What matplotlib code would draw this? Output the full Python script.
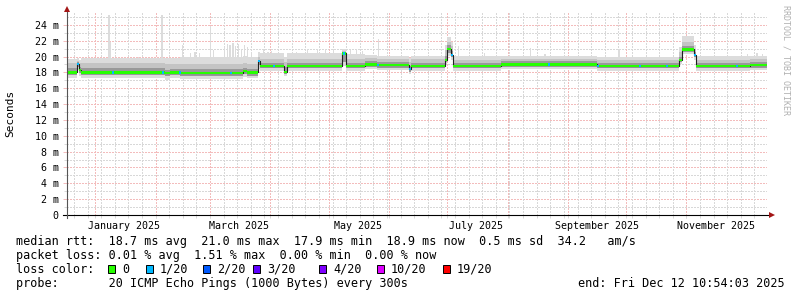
import matplotlib
matplotlib.use('Agg')
import matplotlib.dates as mdates
import matplotlib.pyplot as plt
import numpy as np

plt.rcParams['font.family'] = 'DejaVu Sans Mono'

graph_start = '2024-12-17T10:54'
graph_end = '2025-12-12T10:54'

# median rtt as steps: each value holds from its start time to the next one (ms)
step_start = [
    '2024-12-17T10:54', '2024-12-22T12', '2024-12-23T12', '2024-12-24T12',
    '2025-02-05T18', '2025-02-08T12', '2025-02-13T12', '2025-03-18T00',
    '2025-03-20T00', '2025-03-25T18', '2025-03-26T18', '2025-04-08T00',
    '2025-04-09T12', '2025-05-08T00', '2025-05-10T00', '2025-05-19T18',
    '2025-05-26T00', '2025-06-11T06', '2025-06-12T06', '2025-06-29T18',
    '2025-06-30T18', '2025-07-03T00', '2025-07-04T00', '2025-07-28T12',
    '2025-09-16T00', '2025-10-28T06', '2025-10-29T18', '2025-11-05T00',
    '2025-11-06T00', '2025-12-03T18',
]
median_ms = [
    18.0, 19.1, 18.3, 18.0, 17.9, 18.0, 17.9, 18.2, 18.0, 19.4,
    18.8, 18.1, 18.8, 20.4, 18.8, 19.0, 18.9, 18.4, 18.8, 19.6,
    21.0, 20.2, 18.8, 19.0, 18.8, 19.6, 20.9, 20.2, 18.8, 18.9,
]
# smoke: spread of the 20 pings in each step
smoke_lo = [
    17.3, 18.3, 17.6, 17.3, 17.1, 17.3, 17.2, 17.4, 17.3, 18.4,
    18.2, 17.5, 18.2, 18.8, 18.2, 18.4, 18.3, 17.8, 18.2, 19.0,
    20.1, 19.6, 18.2, 18.4, 18.2, 19.0, 20.3, 19.6, 18.2, 18.3,
]
smoke_q25 = [
    17.7, 18.7, 17.9, 17.7, 17.5, 17.7, 17.6, 17.8, 17.6, 18.9,
    18.5, 17.8, 18.5, 19.3, 18.5, 18.7, 18.6, 18.0, 18.5, 19.3,
    20.5, 19.9, 18.5, 18.7, 18.5, 19.3, 20.6, 19.9, 18.5, 18.6,
]
smoke_q75 = [
    18.5, 19.3, 18.7, 18.5, 18.3, 18.4, 18.4, 18.6, 18.4, 19.6,
    19.2, 18.7, 19.2, 20.5, 19.2, 19.4, 19.3, 18.8, 19.2, 20.1,
    21.4, 20.7, 19.2, 19.4, 19.2, 20.0, 21.3, 20.6, 19.2, 19.3,
]
smoke_q90 = [
    19.2, 19.5, 19.2, 19.2, 19.0, 19.1, 19.1, 19.2, 19.1, 19.9,
    19.7, 19.3, 19.7, 20.7, 19.7, 19.8, 19.7, 19.3, 19.7, 20.8,
    21.9, 21.3, 19.6, 19.7, 19.6, 20.6, 21.9, 21.0, 19.6, 19.7,
]
smoke_hi = [
    19.7, 19.8, 19.6, 19.8, 19.8, 19.8, 20.0, 20.1, 20.0, 20.6,
    20.5, 19.9, 20.4, 20.9, 20.3, 20.2, 20.1, 19.8, 20.1, 21.5,
    22.5, 21.8, 20.1, 20.1, 20.0, 21.2, 22.6, 21.4, 20.1, 20.1,
]

# single steps where the slowest ping stuck out (ms)
peak_time = [
    '2025-01-07T18', '2025-01-08T12', '2025-01-23T00', '2025-02-04T00',
    '2025-02-14T18', '2025-02-18T12', '2025-02-21T00', '2025-02-23T12',
    '2025-02-28T18', '2025-03-02T12', '2025-03-08T00', '2025-03-09T12',
    '2025-03-11T00', '2025-03-12T12', '2025-03-14T00', '2025-03-15T12',
    '2025-03-17T00', '2025-03-18T12', '2025-03-20T00', '2025-03-22T00',
    '2025-03-28T00', '2025-03-30T12', '2025-04-01T12', '2025-04-14T00',
    '2025-04-20T00', '2025-04-25T00', '2025-04-29T00', '2025-05-03T00',
    '2025-05-12T00', '2025-05-15T00', '2025-05-18T00', '2025-05-26T12',
    '2025-07-06T12', '2025-07-20T00', '2025-08-12T12', '2025-08-20T00',
    '2025-09-27T00', '2025-12-02T00', '2025-12-07T00', '2025-12-10T00',
]
peak_ms = [
    25.3, 21.8, 20.0, 25.3, 21.5, 20.4, 20.6, 20.5, 23.9, 20.8,
    21.2, 21.6, 21.5, 21.7, 21.3, 21.6, 21.0, 21.4, 21.2, 20.6,
    20.8, 20.6, 20.7, 20.6, 21.0, 20.9, 21.0, 20.9, 20.8, 21.0,
    20.7, 22.2, 21.3, 20.4, 21.1, 20.3, 20.9, 20.3, 20.4, 20.3,
]

# steps where 1 of the 20 pings was lost
loss_time = [
    '2024-12-22T12', '2025-01-09T12', '2025-02-04T06', '2025-02-13T00',
    '2025-03-11T06', '2025-03-25T18', '2025-04-02T12', '2025-05-08T12',
    '2025-05-26T00', '2025-06-11T06', '2025-07-03T00', '2025-08-21T18',
    '2025-09-16T00', '2025-10-07T12', '2025-10-21T12', '2025-11-05T00',
    '2025-11-26T12',
]

label_time = ['2025-01-16', '2025-03-16', '2025-05-16', '2025-07-16',
              '2025-09-16', '2025-11-16']
label_text = ['January 2025', 'March 2025', 'May 2025', 'July 2025',
              'September 2025', 'November 2025']

loss_names = ['0', '1/20', '2/20', '3/20', '4/20', '10/20', '19/20']
loss_colors = ['#26ff00', '#00b8ff', '#0059ff', '#5e00ff', '#7e00ff',
               '#dd00ff', '#ff0000']

rtt_stats = [18.7, 21.0, 17.9, 18.9, 0.5, 34.2]   # avg max min now sd am/s
loss_stats = [0.01, 1.51, 0.00, 0.00]             # avg max min now

_grid = '#d8d8d8'
_mgrid = '#f3bcbc'
_arrow = '#a31515'
_dots = {'lw': 1.0, 'ls': (0, (1, 1)), 'antialiased': False, 'zorder': 0}


def _num(times):
    return mdates.date2num(np.array(times, dtype='datetime64[m]'))


def _steps(values):
    values = np.asarray(values, dtype=float)
    return np.append(values, values[-1])


def _lookup(t, when, values):
    idx = np.searchsorted(t, when, side='right') - 1
    return np.asarray(values)[idx]


fig = plt.figure(figsize=(7.97, 2.97), dpi=100)
ax = fig.add_axes([67 / 797, (297 - 215) / 297, 700 / 797, 202 / 297])

t = _num(step_start)
t0 = _num([graph_start])[0]
t1 = _num([graph_end])[0]
edges = np.append(t, t1)

# grid, behind everything
for y in range(1, 26):
    ax.axhline(y, color=_mgrid if y % 2 == 0 else _grid, **_dots)
weeks = np.arange(np.datetime64('2024-12-21'), np.datetime64('2025-12-13'),
                  np.timedelta64(7, 'D'))
months = np.arange(np.datetime64('2025-01'), np.datetime64('2025-12-02'),
                   dtype='datetime64[M]').astype('datetime64[D]')
week_x = mdates.date2num(weeks)
month_x = mdates.date2num(months)
for x in week_x:
    ax.axvline(x, color=_grid, **_dots)
for x in month_x:
    ax.axvline(x, color=_mgrid, **_dots)

# smoke
pt = _num(peak_time)
base = _lookup(t, pt, smoke_lo)
ax.bar(pt, np.array(peak_ms) - base, bottom=base, width=0.6, align='edge',
       color='#dcdcdc', lw=0, zorder=1)
ax.fill_between(edges, _steps(smoke_lo), _steps(smoke_hi), step='post',
                color='#dcdcdc', lw=0, zorder=2)
ax.fill_between(edges, _steps(smoke_q25), _steps(smoke_q90), step='post',
                color='#c4c4c4', lw=0, zorder=3)
ax.fill_between(edges, _steps(smoke_q25), _steps(smoke_q75), step='post',
                color='#999999', lw=0, zorder=4)

# median: black step line, coloured by loss on the flats
med = _steps(median_ms)
ax.step(edges, med, where='post', color='#202020', lw=0.8, zorder=5)
ax.fill_between(edges, med - 0.14, med + 0.14, step='post',
                color=loss_colors[0], lw=0, zorder=6)
lt = _num(loss_time)
lm = _lookup(t, lt, median_ms)
ax.bar(lt, np.full(len(lt), 0.28), bottom=lm - 0.14, width=1.0, align='edge',
       color=loss_colors[1], lw=0, zorder=7)

ax.set_xlim(t0, t1)
ax.set_ylim(0, 25.5)
for side in ax.spines.values():
    side.set_visible(False)

ax.set_yticks(range(0, 25, 2))
ax.set_yticklabels(['0' if v == 0 else f'{v} m' for v in range(0, 25, 2)])
ax.set_yticks(range(1, 25, 2), minor=True)
ax.tick_params(axis='y', which='major', length=3, width=0.7, color=_mgrid,
               labelsize=7.2, pad=3)
ax.tick_params(axis='y', which='minor', length=2, width=0.7, color=_grid)

ax.set_xticks(_num(label_time), label_text)
ax.set_xticks(np.concatenate([week_x, month_x]), minor=True)
ax.tick_params(axis='x', which='major', length=0, labelsize=7.2, pad=4)
ax.tick_params(axis='x', which='minor', length=2, width=0.7, color=_grid)

# axes with arrows
ax.plot([-4 / 700, 1 + 3 / 700], [0, 0], transform=ax.transAxes,
        color='black', lw=0.8, clip_on=False, zorder=10)
ax.plot([0, 0], [-3 / 202, 1 + 2 / 202], transform=ax.transAxes,
        color='#555555', lw=0.8, clip_on=False, zorder=10)
ax.plot([0], [1 + 4 / 202], marker='^', ms=4, color=_arrow, mew=0,
        transform=ax.transAxes, clip_on=False, zorder=11)
ax.plot([1 + 5 / 700], [0], marker='>', ms=4, color=_arrow, mew=0,
        transform=ax.transAxes, clip_on=False, zorder=11)

fig.text(10 / 797, 1 - 113 / 297, 'Seconds', rotation=90, fontsize=8,
         ha='center', va='center')
fig.text(786 / 797, 1 - 60 / 297, 'RRDTOOL / TOBI OETIKER', rotation=270,
         fontsize=6, color='#b0b0b0', ha='center', va='center')

# legend block
avg, mx, mn, now, sd, ams = rtt_stats
line1 = (f'median rtt:  {avg:.1f} ms avg  {mx:.1f} ms max  {mn:.1f} ms min  '
         f'{now:.1f} ms now  {sd:.1f} ms sd  {ams:.1f}   am/s')
l_avg, l_max, l_min, l_now = loss_stats
line2 = (f'packet loss: {l_avg:.2f} % avg  {l_max:.2f} % max  '
         f'{l_min:.2f} % min  {l_now:.2f} % now')
line4 = 'probe:       20 ICMP Echo Pings (1000 Bytes) every 300s'


def _ftext(x, y, s, **kw):
    fig.text(x / 797, 1 - y / 297, s, fontsize=8.5, va='baseline', **kw)


_ftext(16, 245, line1)
_ftext(16, 259, line2)
_ftext(16, 272.7, 'loss color:')
_ftext(16, 286.7, line4)
_ftext(578, 286.7, 'end: Fri Dec 12 10:54:03 2025')

square_x = [108, 146, 203, 253, 319, 377, 443]
for x, name, colour in zip(square_x, loss_names, loss_colors):
    fig.patches.append(plt.Rectangle(
        (x / 797, 1 - 272.5 / 297), 7 / 797, 8 / 297, transform=fig.transFigure,
        facecolor=colour, edgecolor='black', lw=0.7))
    _ftext(x + 14, 272.7, name)

fig.savefig('out.png', dpi=100, facecolor='white')
